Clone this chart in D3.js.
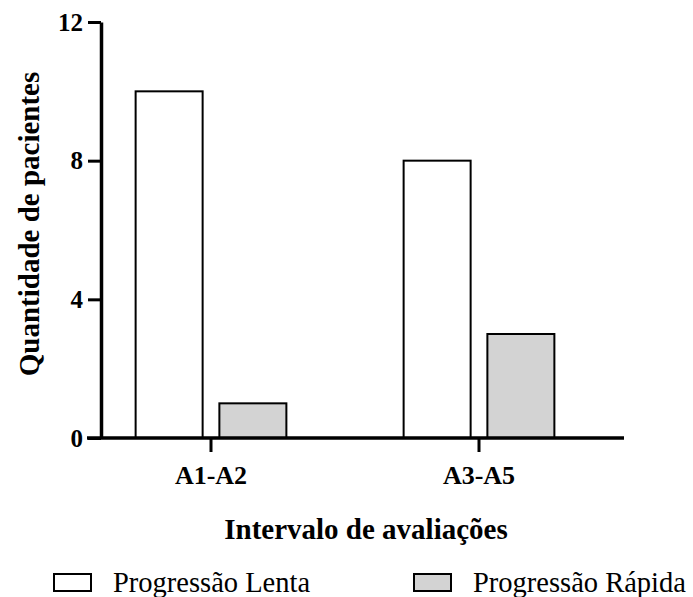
<!DOCTYPE html>
<html>
<head>
<meta charset="utf-8">
<script src="https://cdn.jsdelivr.net/npm/d3@7/dist/d3.min.js"></script>
<style>
  html, body { margin: 0; padding: 0; background: #fff; }
  svg { display: block; }
  text { font-family: "Liberation Serif", "Times New Roman", serif; fill: #000; }
</style>
</head>
<body>
<script>
const categories = ["A1-A2", "A3-A5"];
const seriesNames = ["Progressão Lenta", "Progressão Rápida"];
const lentaValues = [10, 8];
const rapidaValues = [1, 3];
const yTicks = [0, 4, 8, 12];
const seriesColors = ["#ffffff", "#d3d3d3"];
const yTitle = "Quantidade de pacientes";
const xTitle = "Intervalo de avaliações";

const FONT = "'Liberation Serif', 'Times New Roman', serif";
const W = 693, H = 597;
const svg = d3.select("body").append("svg").attr("width", W).attr("height", H);

const y = d3.scaleLinear().domain([0, 12]).range([438, 22]);
const x0 = d3.scaleBand().domain(categories).range([77, 613]).padding(0);
const x1 = d3.scaleBand().domain(seriesNames).range([0, x0.bandwidth()])
  .paddingInner(0.2).paddingOuter(0.7);

const rows = categories.map((c, i) => ({
  cat: c,
  vals: [
    { s: seriesNames[0], v: lentaValues[i], fill: seriesColors[0] },
    { s: seriesNames[1], v: rapidaValues[i], fill: seriesColors[1] }
  ]
}));

// bars
const g = svg.append("g");
g.selectAll("g.grp").data(rows).join("g")
  .attr("class", "grp")
  .attr("transform", d => `translate(${x0(d.cat)},0)`)
  .selectAll("rect").data(d => d.vals).join("rect")
  .attr("x", d => x1(d.s))
  .attr("width", x1.bandwidth())
  .attr("y", d => y(d.v))
  .attr("height", d => y(0) - y(d.v))
  .attr("fill", d => d.fill)
  .attr("stroke", "#000")
  .attr("stroke-width", 2);

// y axis
const yAxis = svg.append("g").attr("transform", "translate(101,0)")
  .call(d3.axisLeft(y).tickValues(yTicks).tickSize(13).tickSizeOuter(0).tickPadding(5).tickFormat(d3.format("d")));
yAxis.attr("font-family", null);
yAxis.select(".domain").attr("stroke", "#000").attr("stroke-width", 3.5);
yAxis.selectAll(".tick line").attr("stroke", "#000").attr("stroke-width", 3);
yAxis.selectAll(".tick text")
  .style("font-family", FONT)
  .style("font-size", "25px").style("font-weight", "bold").attr("fill", "#000");

// x axis
const xAxis = svg.append("g").attr("transform", `translate(0,${y(0)})`)
  .call(d3.axisBottom(x0).tickSize(14).tickSizeOuter(0).tickPadding(14));
xAxis.attr("font-family", null);
xAxis.select(".domain").remove();
xAxis.selectAll(".tick line").attr("stroke", "#000").attr("stroke-width", 3);
xAxis.selectAll(".tick text")
  .style("font-family", FONT)
  .style("font-size", "26px").style("font-weight", "bold").attr("fill", "#000");
svg.append("line")
  .attr("x1", 87).attr("x2", 624)
  .attr("y1", y(0)).attr("y2", y(0))
  .attr("stroke", "#000").attr("stroke-width", 3.5);

// axis titles
svg.append("text")
  .attr("transform", `translate(39,${(y(0) + y(12)) / 2 - 6}) rotate(-90)`)
  .attr("text-anchor", "middle")
  .style("font-family", FONT)
  .style("font-size", "29px").style("font-weight", "bold")
  .text(yTitle);

svg.append("text")
  .attr("x", 366).attr("y", 539)
  .attr("text-anchor", "middle")
  .style("font-family", FONT)
  .style("font-size", "29px").style("font-weight", "bold")
  .text(xTitle);

// legend
const legendX = [54, 414];
const leg = svg.append("g");
seriesNames.forEach((s, i) => {
  leg.append("rect")
    .attr("x", legendX[i]).attr("y", 574)
    .attr("width", 37).attr("height", 17)
    .attr("fill", seriesColors[i]).attr("stroke", "#000").attr("stroke-width", 2);
  leg.append("text")
    .attr("x", legendX[i] + 59).attr("y", 592)
    .style("font-family", FONT)
    .style("font-size", "28.5px")
    .text(s);
});
</script>
</body>
</html>
